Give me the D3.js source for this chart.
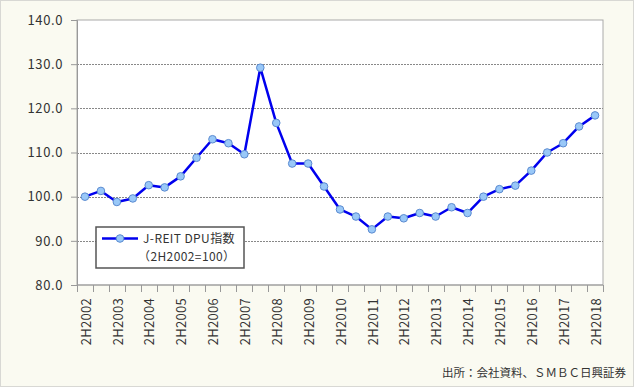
<!DOCTYPE html>
<html>
<head>
<meta charset="utf-8">
<script src="https://cdn.jsdelivr.net/npm/d3@7"></script>
<style>
	body { margin: 0; background: #fff; }
	svg { display: block; font-family: "Noto Sans CJK JP", "DejaVu Sans", sans-serif; }
</style>
</head>
<body>
<div id="chart"></div>
<script>
// half-year periods, 2H2002 .. 2H2018
const periods = [];
for (let y = 2002; y <= 2018; y++) {
	if (y > 2002) periods.push("1H" + y);
	periods.push("2H" + y);
}
const dpuIndex = [
	100.0, 101.3, 98.8, 99.6, 102.6, 102.1, 104.6, 108.8, 113.0, 112.1,
	109.6, 129.2, 116.7, 107.5, 107.5, 102.3, 97.1, 95.5, 92.6, 95.5,
	95.1, 96.3, 95.5, 97.6, 96.3, 100.0, 101.7, 102.5, 105.9, 110.0,
	112.1, 115.9, 118.4
];
const yTicks = [80, 90, 100, 110, 120, 130, 140];
const seriesName = "J-REIT DPU指数";
const seriesNote = "（2H2002=100）";
const sourceNote = "出所：会社資料、ＳＭＢＣ日興証券";

const W = 634, H = 387;
const margin = {top: 20, right: 31, bottom: 102, left: 77};
const width = W - margin.left - margin.right;
const height = H - margin.top - margin.bottom;

const svg = d3.select("#chart")
	.append("svg")
		.attr("width", W)
		.attr("height", H);

// background panel
svg.append("rect")
	.attr("x", 0.5).attr("y", 0.5)
	.attr("width", W - 1).attr("height", H - 1)
	.attr("fill", "#fafaf1")
	.attr("stroke", "#d8d8d4");

const g = svg.append("g")
	.attr("transform", `translate(${margin.left},${margin.top})`);

const x = d3.scaleBand()
	.domain(periods)
	.range([0, width]);

const y = d3.scaleLinear()
	.domain([80, 140])
	.range([height, 0]);

// plot area
g.append("rect")
	.attr("width", width)
	.attr("height", height)
	.attr("fill", "#fff")
	.attr("stroke", "#aaa");

// grid lines
g.selectAll(".grid")
	.data(yTicks.filter(d => d > 80 && d < 140))
	.join("line")
		.attr("x1", 0)
		.attr("x2", width)
		.attr("y1", d => Math.round(y(d)) + 0.5)
		.attr("y2", d => Math.round(y(d)) + 0.5)
		.attr("stroke", "#888")
		.attr("stroke-dasharray", "2,1");

// Y axis
const yAxis = g.append("g")
	.call(d3.axisLeft(y).tickValues(yTicks).tickFormat(d3.format(".1f")).tickSize(6).tickPadding(8));
yAxis.select(".domain").attr("stroke", "#999");
yAxis.selectAll(".tick line").attr("stroke", "#999");
yAxis.selectAll("text")
	.attr("font-size", "13px")
	.attr("letter-spacing", "0.6px")
	.attr("fill", "#333")
	.attr("font-family", "Noto Sans CJK JP");

// X axis: ticks at band boundaries
const xAxis = g.append("g")
	.attr("transform", `translate(0,${height})`);
xAxis.append("line")
	.attr("x1", 0).attr("x2", width)
	.attr("stroke", "#999");
xAxis.selectAll(".xt")
	.data(periods)
	.join("line")
		.attr("x1", d => Math.round(x(d) + x.bandwidth()) + 0.5)
		.attr("x2", d => Math.round(x(d) + x.bandwidth()) + 0.5)
		.attr("y1", 0)
		.attr("y2", 7)
		.attr("stroke", "#999");
xAxis.append("line")
	.attr("x1", 0.5).attr("x2", 0.5)
	.attr("y1", 0).attr("y2", 7)
	.attr("stroke", "#999");
xAxis.selectAll(".xl")
	.data(periods.filter(p => p.startsWith("2H")))
	.join("text")
		.attr("transform", d => `translate(${x(d) + x.bandwidth() / 2 + 1},13)rotate(-90)`)
		.attr("dy", "0.36em")
		.attr("text-anchor", "end")
		.attr("font-size", "13px")
		.attr("letter-spacing", "0.3px")
		.attr("fill", "#333")
		.text(d => d);

// line
const line = d3.line()
	.x((d, i) => x(periods[i]) + x.bandwidth() / 2)
	.y(d => y(d));
g.append("path")
	.datum(dpuIndex)
	.attr("d", line)
	.attr("fill", "none")
	.attr("stroke", "#0000ee")
	.attr("stroke-width", 2.5)
	.attr("stroke-linejoin", "round");

g.selectAll(".pt")
	.data(dpuIndex)
	.join("circle")
		.attr("cx", (d, i) => x(periods[i]) + x.bandwidth() / 2)
		.attr("cy", d => y(d))
		.attr("r", 3.8)
		.attr("fill", "#99c8f8")
		.attr("stroke", "#5a8ad0")
		.attr("stroke-width", 1);

// legend
const legend = svg.append("g")
	.attr("transform", "translate(96,227)");
legend.append("rect")
	.attr("width", 148)
	.attr("height", 41)
	.attr("fill", "#fff")
	.attr("stroke", "#555")
	.attr("stroke-width", 1.5);
legend.append("line")
	.attr("x1", 6).attr("x2", 42)
	.attr("y1", 11.5).attr("y2", 11.5)
	.attr("stroke", "#0000ee")
	.attr("stroke-width", 2.5);
legend.append("circle")
	.attr("cx", 24).attr("cy", 11.5).attr("r", 3.8)
	.attr("fill", "#99c8f8")
	.attr("stroke", "#5a8ad0");
const legendText = legend.append("text")
	.attr("font-size", "12px")
	.attr("letter-spacing", "0.4px")
	.attr("fill", "#333");
legendText.append("tspan")
	.attr("x", 47).attr("y", 16)
	.text(seriesName);
legendText.append("tspan")
	.attr("x", 42).attr("y", 33.5)
	.text(seriesNote);

// source
svg.append("text")
	.attr("x", 626)
	.attr("y", 377)
	.attr("text-anchor", "end")
	.attr("font-size", "11.5px")
	.attr("fill", "#333")
	.text(sourceNote);
</script>
</body>
</html>
